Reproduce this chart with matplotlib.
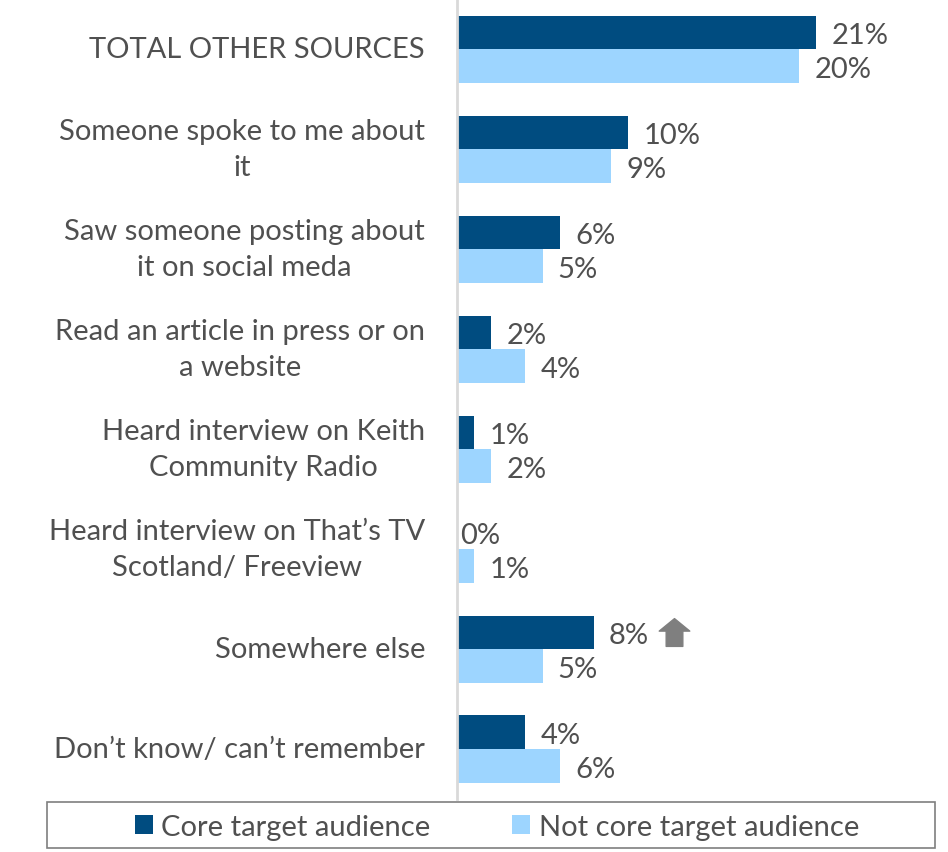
import numpy as np
import matplotlib.pyplot as plt
from matplotlib.path import Path
from matplotlib.patches import Rectangle
import matplotlib.transforms as mtransforms

plt.rcParams['font.family'] = ['Lato', 'DejaVu Sans']

# where people heard about it, % of respondents
categories = [
    "TOTAL OTHER SOURCES",
    "Someone spoke to me about\nit",
    "Saw someone posting about\nit on social meda",
    "Read an article in press or on\na website",
    "Heard interview on Keith\nCommunity Radio",
    "Heard interview on That\u2019s TV\nScotland/ Freeview",
    "Somewhere else",
    "Don\u2019t know/ can\u2019t remember",
]
core = [21, 10, 6, 2, 1, 0, 8, 4]
not_core = [20, 9, 5, 4, 2, 1, 5, 6]
series_names = ["Core target audience", "Not core target audience"]
rising = [False, False, False, False, False, False, True, False]

dark = '#004C80'
light = '#9DD5FF'
text_col = '#505050'
fs = 21

fig = plt.figure(figsize=(9.48, 8.53), dpi=100)
ax = fig.add_axes([457 / 948, 53 / 853, 483 / 948, 800 / 853])

y = np.arange(len(categories))
h = 0.335
ax.barh(y - h / 2, core, height=h, color=dark, label=series_names[0])
ax.barh(y + h / 2, not_core, height=h, color=light, label=series_names[1])

ax.set_xlim(0, 483 / 17.1)
ax.set_ylim(len(categories) - 0.5, -0.5)

ax.set_yticks(y)
ax.set_yticklabels(categories, fontsize=fs, color=text_col, linespacing=1.5)
for lab in ax.get_yticklabels():
    lab.set_multialignment('center')
    lab.set_verticalalignment('center')
ax.tick_params(axis='y', length=0, pad=23)
ax.set_xticks([])
for s in ['top', 'right', 'bottom']:
    ax.spines[s].set_visible(False)
ax.spines['left'].set_color('#D9D9D9')
ax.spines['left'].set_linewidth(2)

for yi, v in zip(y, core):
    ax.annotate(f"{v}%", (v, yi - h / 2), xytext=(11 if v else 2, -2),
                textcoords='offset points', va='center', ha='left',
                fontsize=fs, color=text_col)
for yi, v in zip(y, not_core):
    ax.annotate(f"{v}%", (v, yi + h / 2), xytext=(11, -2),
                textcoords='offset points', va='center', ha='left',
                fontsize=fs, color=text_col)

# up arrow flagging a significant increase
arrow = Path([(-0.3, -0.5), (0.3, -0.5), (0.3, 0.05), (0.55, 0.05),
              (0.0, 0.5), (-0.55, 0.05), (-0.3, 0.05), (-0.3, -0.5)],
             [Path.MOVETO] + [Path.LINETO] * 6 + [Path.CLOSEPOLY])
shift = mtransforms.ScaledTranslation(80 / 100, 0, fig.dpi_scale_trans)
for yi, v, r in zip(y, core, rising):
    if r:
        ax.plot([v], [yi - h / 2], marker=arrow, markersize=22, color='#7F7F7F',
                transform=ax.transData + shift, clip_on=False)

fig.legend(loc='center', bbox_to_anchor=(497 / 948, 25 / 853), ncol=2,
           frameon=False, fontsize=fs, labelcolor=text_col,
           handlelength=0.6, handleheight=0.6, handletextpad=0.3,
           columnspacing=2.8)
fig.patches.append(Rectangle((47 / 948, 4 / 853), 888 / 948, 46 / 853,
                             transform=fig.transFigure, fill=False,
                             edgecolor='#7F7F7F', linewidth=1.2))

fig.savefig('out.png', dpi=100)
